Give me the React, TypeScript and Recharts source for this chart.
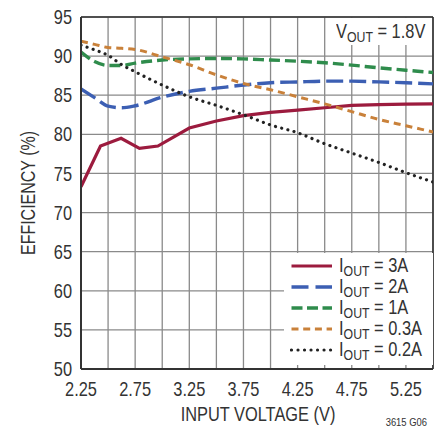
import {
  LineChart,
  Line,
  XAxis,
  YAxis,
  CartesianGrid,
  ReferenceLine,
  Legend,
  Label,
} from "recharts";

const FONT = "'Liberation Sans', Arial, sans-serif";
const NARROW = 0.82; // squeeze Liberation Sans into a narrow face
const TEXT = "#333";

// input voltage (V) sample points
const VIN = [2.25, 2.375, 2.5, 2.625, 2.75, 3.0, 3.25, 3.5, 3.75, 4.0, 4.25, 4.5, 4.75, 5.0, 5.25, 5.5];
const VIN_3A = [2.25, 2.43, 2.62, 2.79, 2.96, 3.25, 3.5, 3.75, 4.0, 4.25, 4.5, 4.75, 5.0, 5.25, 5.5];

// efficiency (%) per load current
const EFF_3A = [73.3, 78.5, 79.5, 78.2, 78.5, 80.8, 81.7, 82.4, 82.8, 83.1, 83.4, 83.7, 83.8, 83.85, 83.9];
const EFF_2A = [85.8, 84.7, 83.6, 83.4, 83.65, 84.75, 85.5, 85.9, 86.3, 86.6, 86.7, 86.8, 86.8, 86.7, 86.6, 86.45];
const EFF_1A = [90.5, 89.3, 88.8, 88.8, 89.1, 89.5, 89.65, 89.7, 89.65, 89.5, 89.35, 89.15, 88.85, 88.5, 88.2, 87.9];
const EFF_03A = [91.9, 91.5, 91.1, 91.0, 90.85, 89.9, 88.9, 87.6, 86.5, 85.7, 84.8, 83.9, 82.9, 81.9, 81.1, 80.3];
const EFF_02A = [91.4, 90.8, 90.1, 88.9, 88.0, 86.3, 84.8, 83.7, 82.5, 81.2, 80.2, 78.8, 77.6, 76.4, 75.1, 73.9];

const X_TICKS = [2.25, 2.5, 2.75, 3.0, 3.25, 3.5, 3.75, 4.0, 4.25, 4.5, 4.75, 5.0, 5.25, 5.5];
const X_LABELS = [2.25, 2.75, 3.25, 3.75, 4.25, 4.75, 5.25];
const Y_TICKS = [50, 55, 60, 65, 70, 75, 80, 85, 90, 95];

const toPoints = (xs: number[], ys: number[]) => xs.map((vin, i) => ({ vin, eff: ys[i] }));

const SERIES = [
  { key: "3A", label: "3A", data: toPoints(VIN_3A, EFF_3A), color: "#9c1b3e", width: 3.2, dash: undefined, legendDash: undefined, cap: "butt", type: "linear" },
  { key: "2A", label: "2A", data: toPoints(VIN, EFF_2A), color: "#3c5fb3", width: 3.4, dash: "17 6", legendDash: "17 7", cap: "butt", type: "monotone" },
  { key: "1A", label: "1A", data: toPoints(VIN, EFF_1A), color: "#2f8c4c", width: 3.4, dash: "11 5", legendDash: "11 4.5", cap: "butt", type: "monotone" },
  { key: "0.3A", label: "0.3A", data: toPoints(VIN, EFF_03A), color: "#c9813a", width: 3, dash: "7 5", legendDash: "7 4.7", cap: "butt", type: "monotone" },
  { key: "0.2A", label: "0.2A", data: toPoints(VIN, EFF_02A), color: "#222222", width: 3.2, dash: "0.01 6.4", legendDash: "0.01 6.5", cap: "round", type: "monotone" },
];

function NarrowText({ x, y, anchor, dy, size, rotate, children }: any) {
  const t = `translate(${x},${y})${rotate ? ` rotate(${rotate})` : ""} scale(${NARROW},1)`;
  return (
    <g transform={t}>
      <text x={0} y={0} dy={dy} textAnchor={anchor} fill={TEXT} fontSize={size} fontFamily={FONT}>
        {children}
      </text>
    </g>
  );
}

const XTick = ({ x, y, payload }: any) =>
  X_LABELS.includes(payload.value) ? (
    <NarrowText x={x} y={y} anchor="middle" dy="0.71em" size={20}>
      {payload.value.toFixed(2)}
    </NarrowText>
  ) : null;

const YTick = ({ x, y, payload }: any) => (
  <NarrowText x={x} y={y} anchor="end" dy="0.355em" size={20}>
    {payload.value}
  </NarrowText>
);

const narrowSpan = { display: "inline-block", transform: `scaleX(${NARROW})`, transformOrigin: "left center", whiteSpace: "nowrap" } as const;

const renderLegend = () => (
  <div style={{ background: "#fff", width: 149, height: 112, paddingTop: 2, boxSizing: "border-box", fontFamily: FONT, overflow: "hidden" }}>
    {SERIES.map((s) => (
      <div key={s.key} style={{ display: "flex", alignItems: "center", height: 21 }}>
        <svg width={49} height={8} style={{ marginLeft: 6, flex: "none" }}>
          <line
            x1={1.5}
            x2={42}
            y1={4}
            y2={4}
            stroke={s.color}
            strokeWidth={s.width}
            strokeDasharray={s.legendDash}
            strokeLinecap={s.cap as any}
          />
        </svg>
        <span style={{ ...narrowSpan, fontSize: 20, lineHeight: "21px", color: TEXT }}>
          I<span style={{ fontSize: 15, position: "relative", top: 4 }}>OUT</span> = {s.label}
        </span>
      </div>
    ))}
  </div>
);

export default function App() {
  return (
    <div style={{ position: "absolute", left: 0, top: 0, width: 442, height: 434, background: "#fff", fontFamily: FONT }}>
      <LineChart width={442} height={434} margin={{ top: 17, right: 9, bottom: 0, left: 0 }}>
        <CartesianGrid stroke="#8a8a8a" strokeWidth={1.3} />
        <XAxis
          type="number"
          dataKey="vin"
          domain={[2.25, 5.5]}
          ticks={X_TICKS}
          allowDataOverflow
          height={65}
          tickLine={false}
          tickSize={6}
          tickMargin={7}
          axisLine={{ stroke: "#333", strokeWidth: 2 }}
          tick={<XTick />}
          interval={0}
        >
          <Label
            content={({ viewBox }: any) => (
              <NarrowText x={viewBox.x + viewBox.width / 2 + 1} y={421} anchor="middle" size={20}>
                INPUT VOLTAGE (V)
              </NarrowText>
            )}
          />
          <Label
            content={() => (
              <NarrowText x={427} y={425.5} anchor="end" size={11.5}>
                3615 G06
              </NarrowText>
            )}
          />
        </XAxis>
        <YAxis
          type="number"
          domain={[50, 95]}
          ticks={Y_TICKS}
          allowDataOverflow
          width={81}
          tickLine={false}
          tickSize={6}
          tickMargin={3}
          axisLine={{ stroke: "#333", strokeWidth: 2 }}
          tick={<YTick />}
          interval={0}
        >
          <Label
            content={({ viewBox }: any) => (
              <NarrowText x={28} y={viewBox.y + viewBox.height / 2} rotate={-90} anchor="middle" dy="0.355em" size={19.5}>
                EFFICIENCY (%)
              </NarrowText>
            )}
          />
        </YAxis>
        <ReferenceLine y={95} stroke="#333" strokeWidth={1.6} />
        <ReferenceLine x={5.5} stroke="#333" strokeWidth={1.6} />
        {SERIES.map((s) => (
          <Line
            key={s.key}
            data={s.data}
            dataKey="eff"
            name={s.key}
            type={s.type as any}
            stroke={s.color}
            strokeWidth={s.width}
            strokeDasharray={s.dash}
            strokeLinecap={s.cap as any}
            dot={false}
            activeDot={false}
            isAnimationActive={false}
          />
        ))}
        <Legend
          layout="vertical"
          align="center"
          verticalAlign="middle"
          content={renderLegend}
          wrapperStyle={{ left: 284, top: 253, width: 149, height: 112 }}
        />
      </LineChart>
      <div
        style={{
          position: "absolute",
          left: 331,
          top: 18,
          width: 101,
          height: 27,
          background: "#fff",
          paddingLeft: 5,
          boxSizing: "border-box",
          overflow: "hidden",
        }}
      >
        <span style={{ ...narrowSpan, fontSize: 20, lineHeight: "27px", color: TEXT }}>
          V<span style={{ fontSize: 15, position: "relative", top: 4 }}>OUT</span> = 1.8V
        </span>
      </div>
    </div>
  );
}
